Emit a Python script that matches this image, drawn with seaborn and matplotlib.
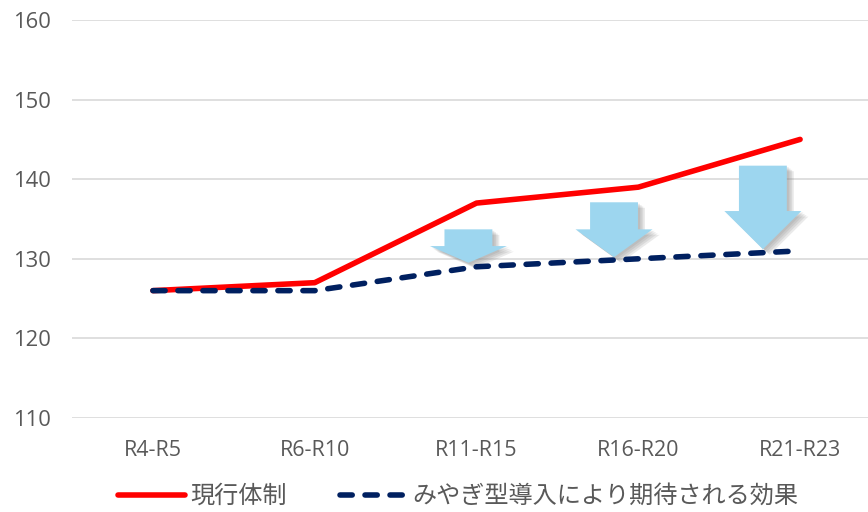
import matplotlib
matplotlib.use("Agg")
import matplotlib.pyplot as plt
import matplotlib.patheffects as pe
from matplotlib.patches import Polygon
import seaborn as sns
import pandas as pd

# Periods and the two projections
periods = ["R4-R5", "R6-R10", "R11-R15", "R16-R20", "R21-R23"]
current_system = [126, 127, 137, 139, 145]
miyagi_model = [126, 126, 129, 130, 131]
series_names = ["現行体制", "みやぎ型導入により期待される効果"]
y_ticks = [110, 120, 130, 140, 150, 160]

# Down arrows marking the expected reduction (x in category units, y in data units)
arrow_x = [1.95, 2.85, 3.77]
arrow_top = [133.7, 137.1, 141.7]
arrow_head_base = [131.6, 133.7, 136.0]
arrow_tip = [129.5, 130.2, 131.2]
shaft_half_width = 0.148
head_half_width = 0.238

sns.set_theme(style="white")
plt.rcParams["font.family"] = ["Open Sans", "Noto Sans CJK JP", "DejaVu Sans"]

df = pd.DataFrame({
    "pos": list(range(len(periods))) * 2,
    "value": current_system + miyagi_model,
    "series": [series_names[0]] * len(periods) + [series_names[1]] * len(periods),
})

fig = plt.figure(figsize=(8.68, 5.12), dpi=100)
ax = fig.add_axes([72 / 868, 94 / 512, 809 / 868, 398 / 512])

sns.lineplot(
    data=df, x="pos", y="value", hue="series", style="series",
    palette={series_names[0]: "#FF0000", series_names[1]: "#002060"},
    dashes={series_names[0]: "", series_names[1]: (2.2, 2.3)},
    linewidth=4.0, sort=False, legend=False, ax=ax, zorder=3,
)
for ln in ax.lines:
    ln.set_dash_capstyle("round")
    ln.set_solid_capstyle("round")

# Light-blue arrows with a soft drop shadow
shadow = [
    pe.SimplePatchShadow(offset=(o, -o * 0.8), shadow_rgbFace="#7f7f7f", alpha=0.16)
    for o in (5.0, 3.8, 2.6, 1.4)
] + [pe.Normal()]
for cx, top, hb, tip in zip(arrow_x, arrow_top, arrow_head_base, arrow_tip):
    pts = [
        (cx - shaft_half_width, top), (cx + shaft_half_width, top),
        (cx + shaft_half_width, hb), (cx + head_half_width, hb),
        (cx, tip), (cx - head_half_width, hb), (cx - shaft_half_width, hb),
    ]
    poly = Polygon(pts, closed=True, facecolor="#9DD6EF", edgecolor="none",
                   zorder=2)
    poly.set_path_effects(shadow)
    ax.add_patch(poly)

ax.set_xlim(-0.5, len(periods) - 0.5)
ax.set_ylim(110, 160)
ax.set_yticks(y_ticks)
ax.set_xticks(range(len(periods)))
ax.set_xticklabels(periods)
ax.set_xlabel("")
ax.set_ylabel("")
ax.grid(axis="y", color="#D9D9D9", linewidth=1.2)
ax.set_axisbelow(True)
for s in ax.spines.values():
    s.set_visible(False)
ax.tick_params(axis="y", length=0, pad=15, labelsize=15.8, labelcolor="#595959")
ax.tick_params(axis="x", length=0, pad=16, labelsize=15.5, labelcolor="#595959")

ax.legend(
    handles=ax.lines[:2], labels=series_names,
    loc="center", bbox_to_anchor=(458 / 868, 16 / 512),
    bbox_transform=fig.transFigure, ncol=2, frameon=False,
    prop={"family": ["Noto Sans CJK JP", "DejaVu Sans"], "size": 17.4},
    handlelength=2.8, handletextpad=0.2, columnspacing=2.2,
    labelcolor="#595959", borderpad=0.1,
)

fig.savefig("out.png", dpi=100)
